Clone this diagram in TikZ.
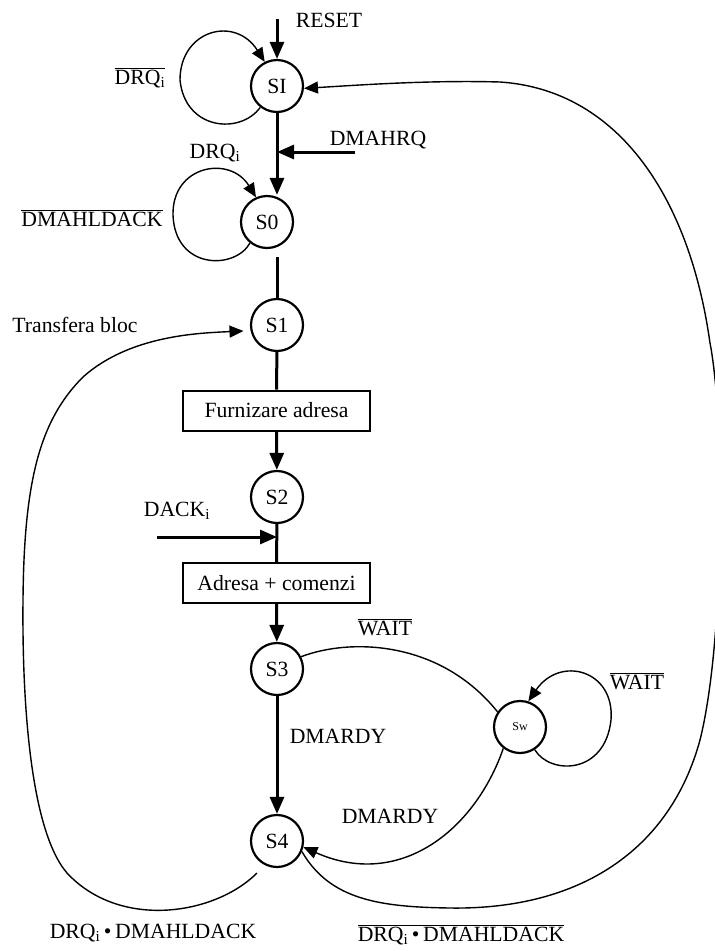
\documentclass[tikz,border=0pt]{standalone}
\usepackage{fontspec}
\setmainfont{Liberation Serif}
\usetikzlibrary{arrows.meta}
% overlined signal name
\newcommand\ovl[1]{$\overline{\mbox{#1}}$}
\begin{document}
\begin{tikzpicture}[x=1pt,y=-1pt,
  font=\fontsize{21.7}{26}\selectfont,
  state/.style={circle,draw,line width=2.2pt,minimum size=52pt,inner sep=0pt},
  box/.style={draw,line width=2pt,minimum width=187pt,minimum height=40pt,inner sep=0pt},
  flow/.style={line width=3pt},
  tip/.style={-{Triangle[length=17pt,width=14pt]}},
  link/.style={line width=1.4pt},
  tiptwo/.style={-{Triangle[length=14pt,width=12pt]}},
  lbl/.style={inner sep=0pt}]
\useasboundingbox (0,0) rectangle (715,951);

% states and actions
\node[state] (SI) at (277,86) {SI};
\node[state] (S0) at (267,222) {S0};
\node[state] (S1) at (277,325) {S1};
\node[box] (B1) at (276.5,410.5) {Furnizare adresa};
\node[state] (S2) at (277,497) {S2};
\node[box] (B2) at (276.5,583) {Adresa + comenzi};
\node[state] (S3) at (277,669) {S3};
\node[state] (S4) at (277,841) {S4};
\node[state,font=\fontsize{12}{14}\selectfont] (Sw) at (520,727) {Sw};

% free ends of input arrows
\coordinate (rst) at (277,19);
\coordinate (hrq) at (355,152);
\coordinate (dack) at (157,537);
\coordinate (s0out) at (277,257);
\coordinate (s4out) at (257,873);

% main flow
\draw[flow,tip] (rst) -- (SI);
\draw[flow,tip] (SI) -- (SI |- S0.north);
\draw[flow,tip] (hrq) -- (hrq -| SI);
\draw[flow] (s0out) -- (S1);
\draw[flow] (S1) -- (B1);
\draw[flow,tip] (B1) -- (S2);
\draw[flow] (S2) -- (B2);
\draw[flow,tip] (dack) -- (dack -| S2);
\draw[flow,tip] (B2) -- (S3);
\draw[flow,tip] (S3) -- (S4);

% self loops
\draw[link,tiptwo] (SI.232) .. controls (240,135) and (185,130) .. (180,80)
  .. controls (180,30) and (235,15) .. (SI.117);
\draw[link,tiptwo] (S0.231) .. controls (235,270) and (175,270) .. (173,215)
  .. controls (172,165) and (230,155) .. (S0.114);
\draw[link,tiptwo] (Sw.303) .. controls (550,775) and (605,775) .. (611,720)
  .. controls (615,670) and (560,655) .. (Sw.72);

% wait branch
\draw[link] (S3.27) .. controls (350,638) and (440,640) .. (Sw.146);
\draw[link,tiptwo] (Sw.232) .. controls (475,830) and (400,890) .. (S4.347);

% block transfer back to S1
\draw[link,tiptwo,shorten >=7pt] (s4out) .. controls (215,915) and (120,930) .. (67,873)
  .. controls (30,830) and (22,700) .. (23,600)
  .. controls (24,480) and (40,420) .. (83,377)
  .. controls (130,335) and (200,333) .. (S1.192);

% return to idle
\draw[link,tiptwo] (S4.337) .. controls (330,900) and (380,907) .. (450,908)
  .. controls (580,910) and (670,850) .. (700,740)
  .. controls (725,640) and (725,420) .. (710,343)
  .. controls (690,200) and (620,90) .. (500,82)
  .. controls (430,80) and (360,85) .. (SI.355);

% labels
\node[lbl] (lreset) at (329,20) {RESET};
\node[lbl] (lhrq) at (378,140) {DMAHRQ};
\node[lbl] (ldrqa) at (140,78) {\ovl{DRQ\textsubscript{i}}};
\node[lbl] (ldrqb) at (215,153) {DRQ\textsubscript{i}};
\node[lbl] (lhld) at (92,218) {\ovl{DMAHLDACK}};
\node[lbl] (ltb) at (75,325) {Transfera bloc};
\node[lbl] (ldack) at (177,511) {DACK\textsubscript{i}};
\node[lbl] (lwa) at (385,627) {\ovl{WAIT}};
\node[lbl] (lwb) at (637,681) {\ovl{WAIT}};
\node[lbl] (lrdya) at (338,736) {DMARDY};
\node[lbl] (lrdyb) at (390,816) {DMARDY};
\node[lbl] (lba) at (153,933) {DRQ\textsubscript{i}\,\textbullet\,DMAHLDACK};
\node[lbl] (lbb) at (461,935) {\ovl{DRQ\textsubscript{i}\,\textbullet\,DMAHLDACK}};
\end{tikzpicture}
\end{document}
